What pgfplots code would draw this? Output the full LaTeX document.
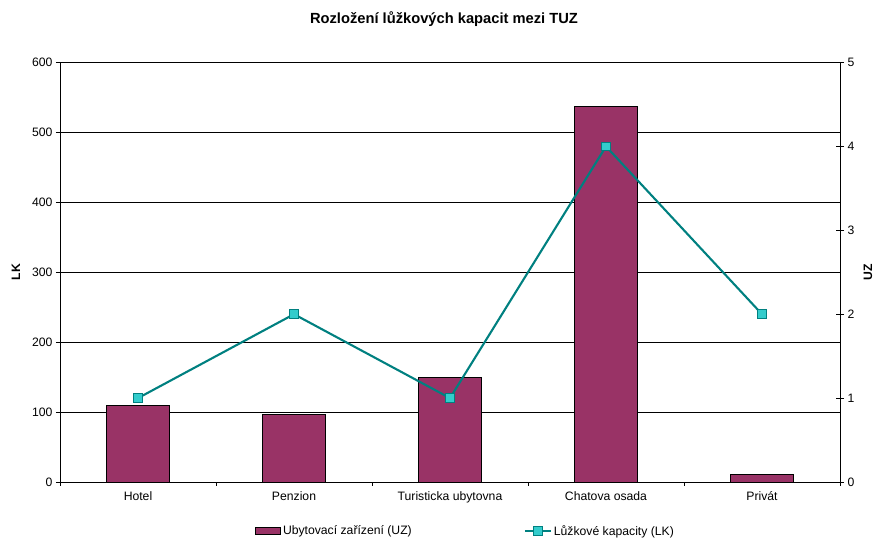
\documentclass[border=0pt]{standalone}
\usepackage{pgfplots}
\pgfplotsset{compat=1.18}
\usepackage{fontspec}
\setmainfont{Liberation Sans}
\definecolor{plum}{HTML}{993366}
\definecolor{tealline}{HTML}{008080}
\definecolor{tealmark}{HTML}{33CCCC}
\begin{document}
\begin{tikzpicture}
\useasboundingbox (-60pt,-56pt) rectangle (816pt,482pt);
\pgfplotsset{
  every axis/.append style={
    scale only axis, width=780pt, height=419.5pt,
    xmin=-0.5, xmax=4.5,
    tick label style={font=\fontsize{12.2}{14}\selectfont},
    /pgf/number format/assume math mode=true,
    label style={font=\fontsize{12.2}{14}\selectfont\bfseries},
    axis line style={-, black, line width=0.8pt},
    tick style={black, line width=0.8pt},
  }
}
\begin{axis}[
  at={(0,0)}, anchor=south west,
  axis x line*=bottom, axis y line*=left,
  ymin=0, ymax=600, ytick={0,100,...,600},
  ymajorgrids, grid style={black, line width=0.8pt},
  xtick={-0.5,0.5,1.5,2.5,3.5,4.5},
  xticklabels={Hotel,Penzion,Turisticka ubytovna,Chatova osada,Privát,},
  xticklabel style={xshift=78pt, yshift=-2pt},
  tick align=outside, major tick length=4pt,
  ylabel={LK},
  ylabel style={at={(axis description cs:-0.0564,0.5)}, rotate=0, anchor=center},
]
\addplot[ybar, bar width=0.4, fill=plum, draw=black, line width=0.8pt]
  coordinates {(0,110) (1,97) (2,150) (3,537) (4,11)};
\end{axis}
\begin{axis}[
  at={(0,0)}, anchor=south west,
  axis y line*=right, axis x line=none,
  ymin=0, ymax=5, ytick={0,1,...,5},
  tick align=center, major tick length=8pt,
  ylabel={UZ},
  ylabel style={at={(axis description cs:1.0359,0.5)}, rotate=0, anchor=center},
  legend columns=2,
  legend style={draw=none, fill=none, inner sep=0pt,
    at={(axis description cs:0.25,-0.1168)}, anchor=west,
    font=\fontsize{12.2}{14}\selectfont,
    /tikz/every even column/.append style={column sep=110pt}},
]
\addlegendimage{legend image code/.code={\draw[fill=plum, draw=black, line width=0.8pt] (0pt,-3.5pt) rectangle (25pt,3.5pt);}}
\addlegendentry{Ubytovací zařízení (UZ)}
\addplot[tealline, line width=2.1pt, mark=square*, mark size=4.3pt,
  mark options={fill=tealmark, draw=tealline, line width=0.8pt},
  legend image code/.code={\draw[tealline, line width=2.1pt] (0pt,0pt) -- (26pt,0pt);
    \draw[fill=tealmark, draw=tealline, line width=0.8pt] (8.8pt,-4.2pt) rectangle (17.2pt,4.2pt);}]
  coordinates {(0,1) (1,2) (2,1) (3,4) (4,2)};
\addlegendentry{Lůžkové kapacity (LK)}
\end{axis}
\node[font=\fontsize{14.7}{17}\selectfont\bfseries] at (384pt,463pt) {Rozložení lůžkových kapacit mezi TUZ};
\end{tikzpicture}
\end{document}
